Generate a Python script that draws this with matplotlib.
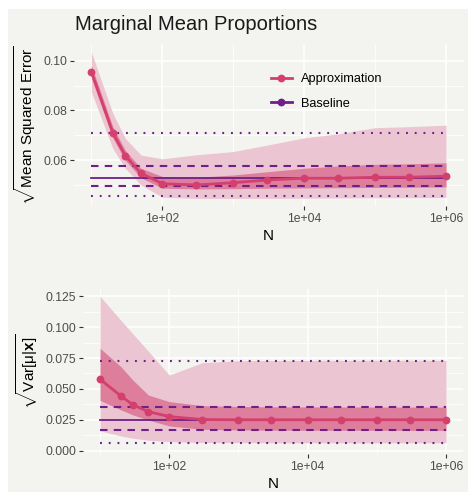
import numpy as np
import matplotlib
matplotlib.use('Agg')
import matplotlib.pyplot as plt
from matplotlib.lines import Line2D
from matplotlib.patches import Rectangle
from matplotlib.ticker import FixedLocator, NullFormatter

plt.rcParams['font.family'] = ['Liberation Sans', 'DejaVu Sans']
plt.rcParams['mathtext.fontset'] = 'custom'
plt.rcParams['mathtext.rm'] = 'Liberation Sans'
plt.rcParams['mathtext.it'] = 'Liberation Sans:italic'
plt.rcParams['mathtext.bf'] = 'Liberation Sans:bold'

# sample sizes
N = [10, 20, 30, 50, 100, 300, 1000, 3000, 1e4, 3e4, 1e5, 3e5, 1e6]

# top panel: sqrt mean squared error
mse_approx = [0.0955, 0.0711, 0.0619, 0.0548, 0.0506, 0.0501, 0.0510, 0.0521, 0.0528, 0.0528, 0.0532, 0.0532, 0.0536]
mse_inner_hi = [0.0980, 0.0735, 0.0640, 0.0568, 0.0535, 0.0532, 0.0541, 0.0554, 0.0568, 0.0577, 0.0584, 0.0586, 0.0590]
mse_inner_lo = [0.0930, 0.0690, 0.0600, 0.0530, 0.0488, 0.0485, 0.0486, 0.0488, 0.0489, 0.0490, 0.0491, 0.0492, 0.0493]
mse_outer_hi = [0.1034, 0.0789, 0.0688, 0.0621, 0.0606, 0.0622, 0.0635, 0.0661, 0.0690, 0.0706, 0.0731, 0.0735, 0.0741]
mse_outer_lo = [0.0874, 0.0648, 0.0568, 0.0501, 0.0452, 0.0447, 0.0447, 0.0447, 0.0448, 0.0449, 0.0450, 0.0450, 0.0451]
mse_base = 0.0529
mse_base_inner = [0.0497, 0.0579]
mse_base_outer = [0.0457, 0.0708]

# bottom panel: sqrt Var[mu|x]
var_approx = [0.0578, 0.0443, 0.0370, 0.0316, 0.0276, 0.0252, 0.0250, 0.0250, 0.0250, 0.0250, 0.0250, 0.0250, 0.0250]
var_inner_hi = [0.0829, 0.0680, 0.0570, 0.0450, 0.0397, 0.0365, 0.0358, 0.0355, 0.0354, 0.0354, 0.0353, 0.0353, 0.0353]
var_inner_lo = [0.0407, 0.0330, 0.0289, 0.0248, 0.0200, 0.0173, 0.0168, 0.0166, 0.0165, 0.0165, 0.0165, 0.0164, 0.0164]
var_outer_hi = [0.1250, 0.1055, 0.0944, 0.0804, 0.0612, 0.0712, 0.0728, 0.0730, 0.0731, 0.0731, 0.0732, 0.0732, 0.0732]
var_outer_lo = [0.0160, 0.0119, 0.0100, 0.0085, 0.0073, 0.0066, 0.0065, 0.0064, 0.0064, 0.0064, 0.0064, 0.0064, 0.0064]
var_base = 0.0250
var_base_inner = [0.0164, 0.0353]
var_base_outer = [0.0064, 0.0730]

bg = '#F3F3EF'
pink = '#D43F6D'
purple = '#6E1F88'
light_band = '#EBC5D1'
dark_band = '#DD7F9C'

fig = plt.figure(figsize=(4.68, 4.92), dpi=100)
fig.patch.set_facecolor('white')
fig.patches.append(Rectangle((8/468, 0), 1, 1 - 9/492, transform=fig.transFigure,
                             facecolor=bg, edgecolor='none', zorder=-10))

def draw_panel(ax, approx, in_lo, in_hi, out_lo, out_hi, base, b_in, b_out):
    ax.set_facecolor(bg)
    ax.fill_between(N, out_lo, out_hi, color=light_band, lw=0, zorder=1)
    ax.fill_between(N, in_lo, in_hi, color=dark_band, lw=0, zorder=2)
    xr = [N[0], N[-1]]
    for v in b_out:
        ax.plot(xr, [v, v], color=purple, lw=1.5, dashes=(0.9, 3.3), zorder=3)
    for v in b_in:
        ax.plot(xr, [v, v], color=purple, lw=1.5, dashes=(3.6, 3.0), zorder=3)
    ax.plot(xr, [base, base], color=purple, lw=1.3, zorder=3)
    ax.plot(N, approx, color=pink, lw=2.0, marker='o', ms=4.6, zorder=4)
    ax.set_xscale('log')
    ax.set_xlim(10**0.75, 10**6.25)
    ax.xaxis.set_major_locator(FixedLocator([1e2, 1e4, 1e6]))
    ax.set_xticklabels(['1e+02', '1e+04', '1e+06'])
    ax.xaxis.set_minor_locator(FixedLocator([1e1, 1e3, 1e5]))
    ax.xaxis.set_minor_formatter(NullFormatter())
    ax.grid(which='major', color='white', lw=1.1)
    ax.grid(which='minor', color='white', lw=0.55)
    ax.set_axisbelow(True)
    for s in ax.spines.values():
        s.set_visible(False)
    ax.tick_params(which='major', length=2.8, width=0.8, color='#333333',
                   labelcolor='#4D4D4D', labelsize=8.8, pad=2)
    ax.tick_params(which='minor', length=0)
    ax.set_xlabel('N', fontsize=11, labelpad=3)

# top panel
ax1 = fig.add_axes([73.7/468, 286/492, 390/468, 162/492])
draw_panel(ax1, mse_approx, mse_inner_lo, mse_inner_hi, mse_outer_lo, mse_outer_hi,
           mse_base, mse_base_inner, mse_base_outer)
ax1.set_ylim(0.04165, 0.1067)
ax1.yaxis.set_major_locator(FixedLocator([0.06, 0.08, 0.10]))
ax1.set_yticklabels(['0.06', '0.08', '0.10'])
ax1.yaxis.set_minor_locator(FixedLocator([0.05, 0.07, 0.09]))
ax1.yaxis.set_minor_formatter(NullFormatter())
ax1.set_ylabel(r'$\sqrt{\mathrm{Mean\ Squared\ Error}}$', fontsize=11, labelpad=4)

handles = [Line2D([], [], color=pink, lw=2.0, marker='o', ms=4.6),
           Line2D([], [], color=purple, lw=2.0, marker='o', ms=4.6)]
ax1.legend(handles, ['Approximation', 'Baseline'], loc='upper left',
           bbox_to_anchor=(0.49, 0.86), frameon=False, fontsize=9.2,
           handlelength=1.6, handletextpad=0.75, labelspacing=1.0, borderpad=0)

# bottom panel
ax2 = fig.add_axes([82.8/468, 38/492, 380.5/468, 165/492])
draw_panel(ax2, var_approx, var_inner_lo, var_inner_hi, var_outer_lo, var_outer_hi,
           var_base, var_base_inner, var_base_outer)
ax2.set_ylim(-0.0027, 0.1309)
yt = [0.0, 0.025, 0.05, 0.075, 0.10, 0.125]
ax2.yaxis.set_major_locator(FixedLocator(yt))
ax2.set_yticklabels(['%.3f' % v for v in yt])
ax2.yaxis.set_minor_locator(FixedLocator([0.0125, 0.0375, 0.0625, 0.0875, 0.1125]))
ax2.yaxis.set_minor_formatter(NullFormatter())
ax2.set_ylabel(r'$\sqrt{\mathrm{Var[μ|}\mathbf{x}\mathrm{]}}$', fontsize=11, labelpad=4)

fig.text(75/468, 1 - 24/492, 'Marginal Mean Proportions', fontsize=14.5,
         color='#1A1A1A', ha='left', va='center')

fig.savefig('out.png', dpi=100, facecolor=fig.get_facecolor())
